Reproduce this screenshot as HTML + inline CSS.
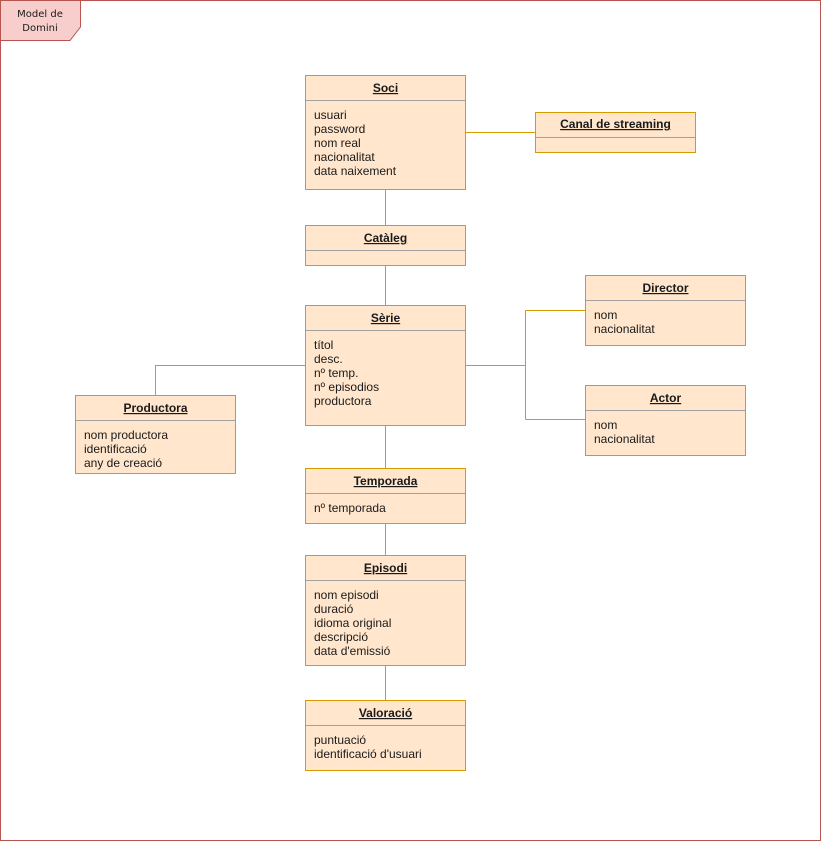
<!DOCTYPE html>
<html><head><meta charset="utf-8"><style>
html,body{margin:0;padding:0;background:#fff}
svg{display:block}
text{font-family:"Liberation Sans",Arial,sans-serif;font-size:12px;fill:#1a1a1a}
.h{font-weight:bold;text-decoration:underline;text-anchor:middle}
.b{fill:#ffe6cc;stroke:#d79b00;stroke-width:1}
.s{stroke:#a0a0a0;stroke-width:1}
.l{stroke:#d79b00;stroke-width:1;fill:none}
</style></head><body>
<svg width="821" height="841" viewBox="0 0 821 841" xmlns="http://www.w3.org/2000/svg">
<rect x="0.5" y="0.5" width="820" height="840" fill="#fff" stroke="#b85450"/>
<polygon points="0.5,0.5 80.5,0.5 80.5,27 70,40.5 0.5,40.5" fill="#f8cecc" stroke="#b85450"/>
<text x="40" y="17" text-anchor="middle" style="font-family:'DejaVu Sans',sans-serif;font-size:10px">Model de</text>
<text x="40" y="31" text-anchor="middle" style="font-family:'DejaVu Sans',sans-serif;font-size:10px">Domini</text>

<!-- connectors -->
<path class="l" d="M465.5,132.5H535.5"/>
<path class="l" d="M385.5,189.5V225.5"/>
<path class="l" d="M385.5,265.5V305.5"/>
<path class="l" d="M465.5,365.5H525.5M525.5,310.5V419.5M525.5,310.5H585.5M525.5,419.5H585.5"/>
<path class="l" d="M305.5,365.5H155.5V395.5"/>
<path class="l" d="M385.5,425.5V468.5"/>
<path class="l" d="M385.5,523.5V555.5"/>
<path class="l" d="M385.5,665.5V700.5"/>

<!-- Soci -->
<rect class="b" x="305.5" y="75.5" width="160" height="114"/>
<line class="s" x1="306" y1="100.5" x2="465" y2="100.5"/>
<text class="h" x="385.5" y="92">Soci</text>
<text x="314" y="119">usuari</text><text x="314" y="133">password</text><text x="314" y="147">nom real</text><text x="314" y="161">nacionalitat</text><text x="314" y="175">data naixement</text>

<!-- Canal -->
<rect class="b" x="535.5" y="112.5" width="160" height="40"/>
<line class="s" x1="536" y1="137.5" x2="695" y2="137.5"/>
<text class="h" x="615.5" y="128">Canal de streaming</text>

<!-- Cataleg -->
<rect class="b" x="305.5" y="225.5" width="160" height="40"/>
<line class="s" x1="306" y1="250.5" x2="465" y2="250.5"/>
<text class="h" x="385.5" y="242">Catàleg</text>

<!-- Serie -->
<rect class="b" x="305.5" y="305.5" width="160" height="120"/>
<line class="s" x1="306" y1="330.5" x2="465" y2="330.5"/>
<text class="h" x="385.5" y="322">Sèrie</text>
<text x="314" y="349">títol</text><text x="314" y="363">desc.</text><text x="314" y="377">nº temp.</text><text x="314" y="391">nº episodios</text><text x="314" y="405">productora</text>

<!-- Director -->
<rect class="b" x="585.5" y="275.5" width="160" height="70"/>
<line class="s" x1="586" y1="300.5" x2="745" y2="300.5"/>
<text class="h" x="665.5" y="292">Director</text>
<text x="594" y="319">nom</text><text x="594" y="333">nacionalitat</text>

<!-- Actor -->
<rect class="b" x="585.5" y="385.5" width="160" height="70"/>
<line class="s" x1="586" y1="410.5" x2="745" y2="410.5"/>
<text class="h" x="665.5" y="402">Actor</text>
<text x="594" y="429">nom</text><text x="594" y="443">nacionalitat</text>

<!-- Productora -->
<rect class="b" x="75.5" y="395.5" width="160" height="78"/>
<line class="s" x1="76" y1="420.5" x2="235" y2="420.5"/>
<text class="h" x="155.5" y="412">Productora</text>
<text x="84" y="439">nom productora</text><text x="84" y="453">identificació</text><text x="84" y="467">any de creació</text>

<!-- Temporada -->
<rect class="b" x="305.5" y="468.5" width="160" height="55"/>
<line class="s" x1="306" y1="493.5" x2="465" y2="493.5"/>
<text class="h" x="385.5" y="485">Temporada</text>
<text x="314" y="512">nº temporada</text>

<!-- Episodi -->
<rect class="b" x="305.5" y="555.5" width="160" height="110"/>
<line class="s" x1="306" y1="580.5" x2="465" y2="580.5"/>
<text class="h" x="385.5" y="572">Episodi</text>
<text x="314" y="599">nom episodi</text><text x="314" y="613">duració</text><text x="314" y="627">idioma original</text><text x="314" y="641">descripció</text><text x="314" y="655">data d'emissió</text>

<!-- Valoracio -->
<rect class="b" x="305.5" y="700.5" width="160" height="70"/>
<line class="s" x1="306" y1="725.5" x2="465" y2="725.5"/>
<text class="h" x="385.5" y="717">Valoració</text>
<text x="314" y="744">puntuació</text><text x="314" y="758">identificació d'usuari</text>
</svg>
</body></html>
